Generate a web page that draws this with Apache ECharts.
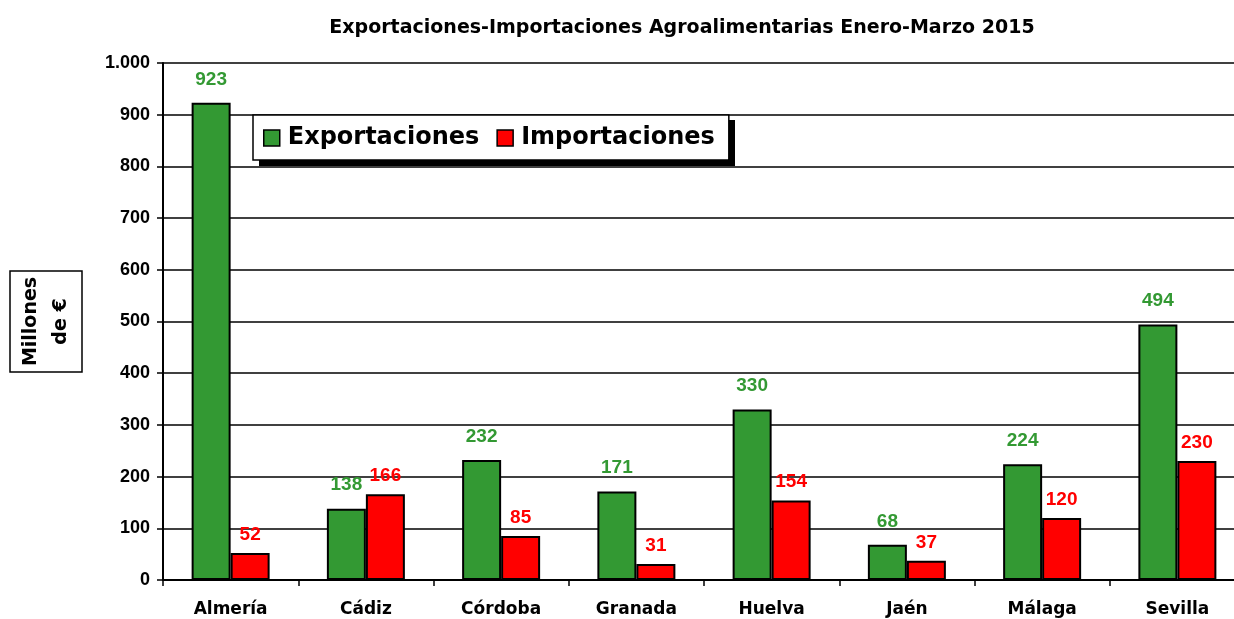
<!DOCTYPE html>
<html>
<head>
<meta charset="utf-8">
<script src="https://cdn.jsdelivr.net/npm/echarts@6/dist/echarts.min.js"></script>
<style>
html, body { margin: 0; padding: 0; background: #fff; }
#main { width: 1234px; height: 619px; }
</style>
</head>
<body>
<div id="main"></div>
<script>
var provincias = ['Almería', 'Cádiz', 'Córdoba', 'Granada', 'Huelva', 'Jaén', 'Málaga', 'Sevilla'];
var exportaciones = [923, 138, 232, 171, 330, 68, 224, 494];
var importaciones = [52, 166, 85, 31, 154, 37, 120, 230];

var WIDE = 'DejaVu Sans, Verdana, sans-serif';
var ARIAL = 'Liberation Sans, Arial, sans-serif';
var chart = echarts.init(document.getElementById('main'));

var option = {
    animation: false,
    backgroundColor: '#fff',
    title: {
        text: 'Exportaciones-Importaciones Agroalimentarias Enero-Marzo 2015',
        left: 677, top: 14, textAlign: 'center',
        textStyle: { fontFamily: WIDE, fontSize: 19, fontWeight: 'bold', color: '#000' }
    },
    // drop shadow behind the legend box
    graphic: [{
        type: 'rect', z: 5,
        shape: { x: 259, y: 120, width: 476, height: 46 },
        style: { fill: '#000' }
    }],
    legend: {
        z: 10,
        left: 253, top: 115,
        padding: [11, 14, 10, 10],
        itemGap: 17,
        itemWidth: 16, itemHeight: 16,
        icon: 'rect',
        backgroundColor: '#fff',
        borderColor: '#000', borderWidth: 1.5,
        itemStyle: { borderColor: '#000', borderWidth: 1.5 },
        textStyle: { fontFamily: WIDE, fontSize: 24, fontWeight: 'bold', color: '#000', padding: [0, 0, 0, 3] },
        data: ['Exportaciones', 'Importaciones']
    },
    grid: { left: 163, right: -11, top: 63, bottom: 39, containLabel: false, outerBoundsMode: 'none' },
    xAxis: {
        type: 'category',
        data: provincias,
        axisLine: { lineStyle: { color: '#000', width: 2 } },
        axisTick: { show: true, length: 6, lineStyle: { color: '#000', width: 1.5 } },
        axisLabel: { fontFamily: WIDE, fontSize: 17, fontWeight: 'bold', color: '#000', margin: 21 }
    },
    yAxis: {
        type: 'value',
        min: 0, max: 1000, interval: 100,
        name: 'Millones\nde €',
        nameLocation: 'middle',
        nameGap: 81,
        nameRotate: 90,
        nameTextStyle: {
            fontFamily: WIDE, fontSize: 19, fontWeight: 'bold', color: '#000',
            lineHeight: 30,
            borderColor: '#000', borderWidth: 1.5,
            padding: [6, 6, 6, 6]
        },
        axisLine: { show: true, lineStyle: { color: '#000', width: 2 } },
        axisTick: { show: true, length: 6, lineStyle: { color: '#000', width: 1.5 } },
        axisLabel: {
            fontFamily: ARIAL, fontSize: 18, fontWeight: 'bold', color: '#000', margin: 13,
            formatter: function (v) { return v >= 1000 ? String(v).replace(/(\d)(\d{3})$/, '$1.$2') : v; }
        },
        splitLine: { lineStyle: { color: '#000', width: 1.5 } }
    },
    series: [
        {
            name: 'Exportaciones',
            type: 'bar',
            data: exportaciones,
            barWidth: 39,
            barGap: '0%',
            itemStyle: { color: '#339933', borderColor: '#000', borderWidth: 2 },
            label: {
                show: true, position: 'top', distance: 14,
                fontFamily: ARIAL, fontSize: 19, fontWeight: 'bold', color: '#339933'
            }
        },
        {
            name: 'Importaciones',
            type: 'bar',
            data: importaciones,
            barWidth: 39,
            itemStyle: { color: '#ff0000', borderColor: '#000', borderWidth: 2 },
            label: {
                show: true, position: 'top', distance: 9,
                fontFamily: ARIAL, fontSize: 19, fontWeight: 'bold', color: '#ff0000'
            }
        }
    ]
};

chart.setOption(option);
</script>
</body>
</html>
